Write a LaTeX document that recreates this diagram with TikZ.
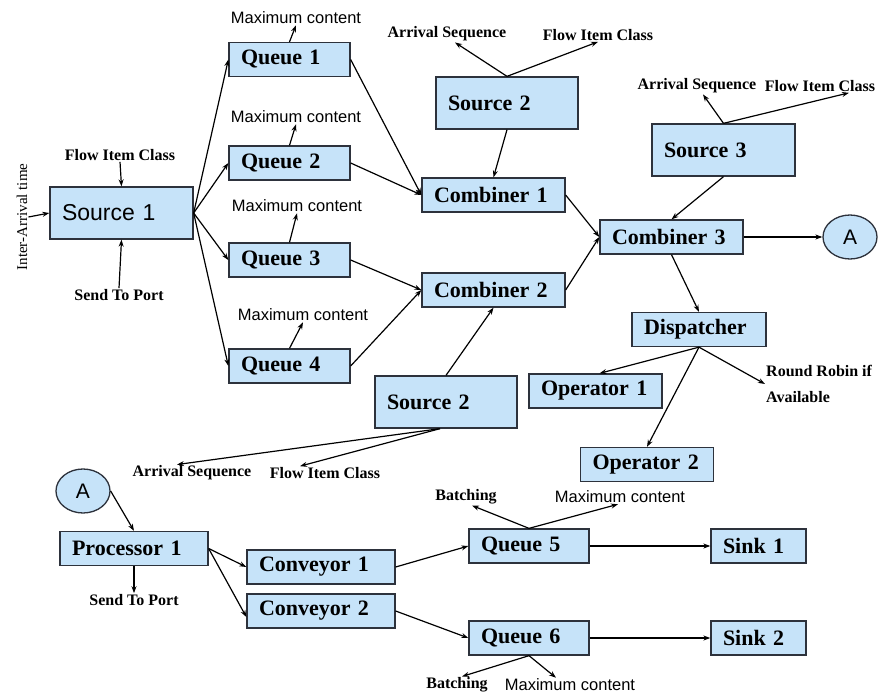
\documentclass[tikz,border=0pt]{standalone}
\usepackage{fontspec}
\setmainfont{Liberation Serif}
\setsansfont{Liberation Sans}
\usetikzlibrary{arrows.meta,shapes.geometric}
\definecolor{boxblue}{RGB}{198,227,249}
\definecolor{boxline}{RGB}{45,50,60}

\begin{document}
\begin{tikzpicture}[x=1pt,y=-1pt,
  blk/.style={draw=boxline,line width=1.3pt,fill=boxblue,text width=#1,align=left,
    inner xsep=12pt,inner ysep=0pt,minimum height=34pt,font=\fontsize{22}{26}\selectfont\bfseries},
  tall/.style={minimum height=52pt},
  sans/.style={font=\sffamily\fontsize{23}{26}\selectfont},
  lbl/.style={inner sep=1pt,font=\fontsize{16}{18}\selectfont\bfseries},
  slbl/.style={inner sep=1pt,font=\sffamily\fontsize{16.5}{18}\selectfont},
  conn/.style={draw=boxline,line width=1.3pt,fill=boxblue,ellipse,minimum width=54pt,
    minimum height=44pt,inner sep=0pt,font=\sffamily\fontsize{21}{24}\selectfont},
  arr/.style={line width=1.2pt,-{Stealth[length=7pt,width=5pt]}}]
\useasboundingbox (0,0) rectangle (881,693);

% blocks
\node[blk=119pt,tall,sans] (src1) at (121.5,213) {Source 1};
\node[blk=97pt] (q1) at (289.5,59.5) {Queue 1};
\node[blk=97pt] (q2) at (289.5,163) {Queue 2};
\node[blk=97pt] (q3) at (289.5,260) {Queue 3};
\node[blk=97pt] (q4) at (289.5,366) {Queue 4};
\node[blk=118pt,tall] (src2) at (507,103) {Source 2};
\node[blk=118pt,tall] (src2b) at (446,402) {Source 2};
\node[blk=119pt,tall] (src3) at (723.5,150) {Source 3};
\node[blk=119pt] (cmb1) at (493.5,195) {Combiner 1};
\node[blk=119pt] (cmb2) at (493.5,290) {Combiner 2};
\node[blk=119pt] (cmb3) at (671.5,237) {Combiner 3};
\node[conn] (a1) at (850,237) {A};
\node[blk=110pt] (disp) at (699,329.5) {Dispatcher};
\node[blk=109pt] (op1) at (595.5,391) {Operator 1};
\node[blk=109pt] (op2) at (647,464.5) {Operator 2};
\node[conn] (a2) at (83,491) {A};
\node[blk=124pt] (proc) at (134,548.5) {Processor 1};
\node[blk=124pt] (conv1) at (321,567) {Conveyor 1};
\node[blk=124pt] (conv2) at (321,611) {Conveyor 2};
\node[blk=96pt] (q5) at (529,546) {Queue 5};
\node[blk=96pt] (q6) at (529,638) {Queue 6};
\node[blk=71pt] (sink1) at (758.5,546) {Sink 1};
\node[blk=71pt] (sink2) at (758.5,638) {Sink 2};

% attribute labels
\node[inner sep=1pt,rotate=90,font=\fontsize{15}{18}\selectfont] (iat) at (22,217) {Inter-Arrival time};
\node[lbl] (fic1) at (120,155) {Flow Item Class};
\node[lbl] (stp1) at (119,295) {Send To Port};
\node[slbl] (mc1) at (296,18) {Maximum content};
\node[slbl] (mc2) at (296,117) {Maximum content};
\node[slbl] (mc3) at (297,206) {Maximum content};
\node[slbl] (mc4) at (303,315) {Maximum content};
\node[lbl] (as2) at (447,34) {Arrival Sequence};
\node[lbl] (fic2) at (598,35) {Flow Item Class};
\node[lbl] (as3) at (697,86) {Arrival Sequence};
\node[lbl] (fic3) at (820,86) {Flow Item Class};
\node[lbl,align=left,anchor=west,font=\fontsize{16}{26}\selectfont\bfseries] (rr) at (765,384) {Round Robin if\\Available};
\node[lbl] (as4) at (192,473) {Arrival Sequence};
\node[lbl] (fic4) at (325,473) {Flow Item Class};
\node[lbl] (stp2) at (134,600) {Send To Port};
\node[lbl] (bat5) at (466,497) {Batching};
\node[slbl] (mc5) at (620,497) {Maximum content};
\node[lbl] (bat6) at (457,685) {Batching};
\node[slbl] (mc6) at (570,685) {Maximum content};

% flow
\path[arr] (src1.east) edge (q1.west)
               edge (q2.west)
               edge (q3.west)
               edge (q4.west)
  (q1.east) edge (cmb1.west)
  (q2.east) edge (cmb1.west)
  (q3.east) edge (cmb2.west)
  (q4.east) edge (cmb2.west)
  (src2.south) edge (cmb1.north)
  (src2b.north) edge (cmb2.south)
  (cmb1.east) edge (cmb3.west)
  (cmb2.east) edge (cmb3.west)
  (src3.south) edge (cmb3.north)
  (cmb3.east) edge (a1.west)
  (cmb3.south) edge (disp.north)
  (disp.south) edge ([xshift=4pt]op1.north)
               edge (op2.north)
               edge (rr.west)
  (a2.east) edge (proc.north)
  (proc.east) edge (conv1.west)
              edge ([yshift=-6pt]conv2.west)
  (conv1.east) edge (q5.west)
  (conv2.east) edge (q6.west)
  (q5.east) edge (sink1.west)
  (q6.east) edge (sink2.west);

% attributes
\path[arr] (iat.south) edge (src1.west)
  (fic1.south) edge (src1.north)
  (stp1.north) edge (src1.south)
  (q1.north) edge (mc1.south)
  (q2.north) edge (mc2.south)
  (q3.north) edge (mc3.south)
  (q4.north) edge (mc4.south)
  (src2.north) edge ([xshift=8pt]as2.south)
               edge (fic2.south)
  (src3.north) edge ([xshift=6pt]as3.south)
               edge ([xshift=29pt]fic3.south)
  ([xshift=-6pt]src2b.south) edge ([xshift=-15pt]as4.north)
                             edge ([xshift=-25pt]fic4.north)
  (proc.south) edge (stp2.north)
  (q5.north) edge ([xshift=6pt]bat5.south)
             edge ([xshift=-2pt]mc5.south)
  (q6.south) edge ([xshift=5pt]bat6.north)
             edge ([xshift=-14pt]mc6.north);
\end{tikzpicture}
\end{document}
